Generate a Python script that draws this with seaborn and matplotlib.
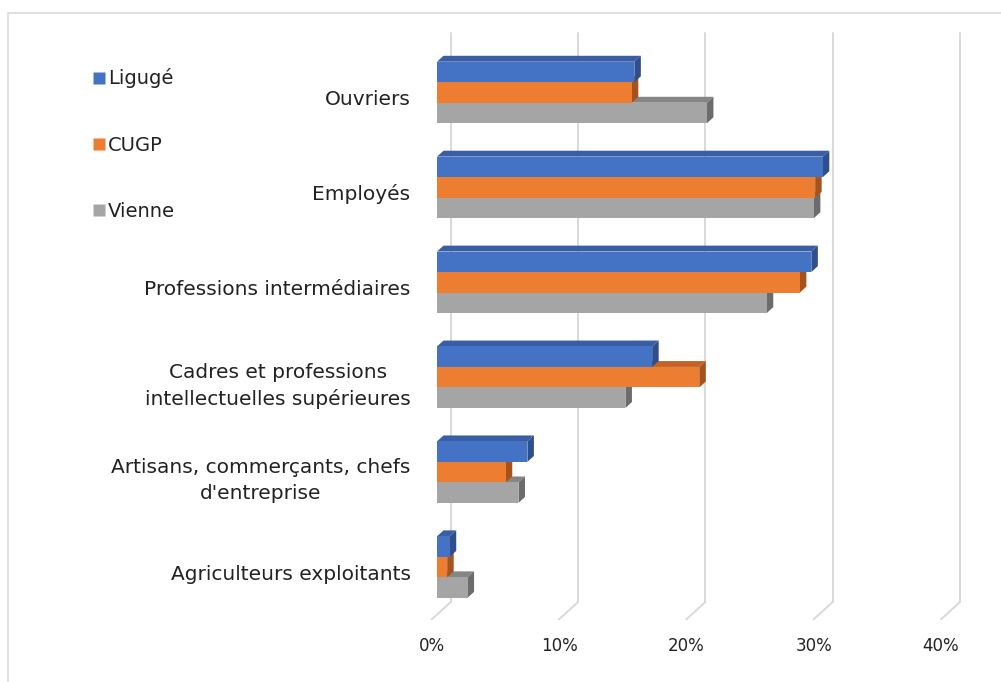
import numpy as np
import pandas as pd
import matplotlib
matplotlib.use("Agg")
import matplotlib.pyplot as plt
import matplotlib.transforms as mtransforms
from matplotlib.patches import Polygon, Rectangle
from matplotlib.lines import Line2D
import seaborn as sns

# ---- data -------------------------------------------------------------
categories = [
    "Ouvriers",
    "Employés",
    "Professions intermédiaires",
    "Cadres et professions\nintellectuelles supérieures",
    "Artisans, commerçants, chefs\nd'entreprise",
    "Agriculteurs exploitants",
]
zones = ["Ligugé", "CUGP", "Vienne"]
ligue = [15.5, 30.3, 29.4, 16.9, 7.1, 1.0]
cugp = [15.3, 29.7, 28.5, 20.6, 5.4, 0.8]
vienne = [21.2, 29.6, 25.9, 14.8, 6.4, 2.4]
x_ticks = [0, 10, 20, 30, 40]
x_tick_labels = ["0%", "10%", "20%", "30%", "40%"]

front_colors = ["#4472C4", "#ED7D31", "#A5A5A5"]
top_colors = ["#3A5EA6", "#C2642A", "#858585"]
side_colors = ["#2F4F8C", "#A5521E", "#6C6C6C"]

df = pd.DataFrame({
    "cat": categories * 3,
    "zone": np.repeat(zones, len(categories)),
    "val": ligue + cugp + vienne,
})

# ---- figure -----------------------------------------------------------
W, H, DPI = 1001, 682, 100
sns.set_style("white")
plt.rcParams["font.family"] = ["DejaVu Sans"]
fig = plt.figure(figsize=(W / DPI, H / DPI), dpi=DPI)
fig.patch.set_facecolor("white")

ax = fig.add_axes([437 / W, 67.5 / H, 509.3 / W, 569.5 / H])
sns.barplot(data=df, y="cat", x="val", hue="zone", hue_order=zones,
            order=categories, orient="h", width=0.648, palette=front_colors,
            saturation=1, legend=False, ax=ax, errorbar=None)
ax.set_xlim(0, 40)
ax.set_ylim(5.5, -0.5)
for s in ax.spines.values():
    s.set_visible(False)
ax.set_xlabel("")
ax.set_ylabel("")
ax.set_facecolor("none")

# pixel size of one data unit on each axis
bbox = ax.get_window_extent()
sx = bbox.width / 40.0
sy = bbox.height / 6.0


def depth_shift(d):
    """Data-space offset of an oblique depth of d pixels (to the right and up)."""
    return d / sx, -0.91 * d / sy


# ---- back wall gridlines and floor edges ------------------------------
bx, by = depth_shift(13.7)
fx, fy = depth_shift(-5.3)
grid_c = "#D9D9D9"
for v in x_ticks:
    ax.add_line(Line2D([v + bx, v + bx], [-0.5 + by, 5.5 + by], color=grid_c,
                       lw=1.4, zorder=0, clip_on=False))
    ax.add_line(Line2D([v + bx, v + fx], [5.5 + by, 5.5 + fy], color=grid_c,
                       lw=1.4, zorder=0, clip_on=False))

# ---- 3D faces of bars -------------------------------------------------
dx, dy = depth_shift(6.5)
for h, cont in enumerate(ax.containers):
    base_z = 3 + (2 - h) * 2
    for bar in cont:
        x0 = bar.get_x()
        x1 = x0 + bar.get_width()
        ytop = bar.get_y()
        ybot = ytop + bar.get_height()
        top = Polygon([(x0, ytop), (x1, ytop), (x1 + dx, ytop + dy), (x0 + dx, ytop + dy)],
                      closed=True, facecolor=top_colors[h], edgecolor="none",
                      zorder=base_z, clip_on=False)
        side = Polygon([(x1, ytop), (x1, ybot), (x1 + dx, ybot + dy), (x1 + dx, ytop + dy)],
                       closed=True, facecolor=side_colors[h], edgecolor="none",
                       zorder=base_z, clip_on=False)
        ax.add_patch(top)
        ax.add_patch(side)
        bar.set_zorder(base_z + 1)
        bar.set_edgecolor("none")

# ---- tick labels ------------------------------------------------------
ax.set_xticks(x_ticks)
ax.set_xticklabels(x_tick_labels, fontsize=12, color="#222222")
ax.tick_params(axis="x", length=0, pad=16)
for lab in ax.get_xticklabels():
    lab.set_transform(lab.get_transform() +
                      mtransforms.ScaledTranslation(-5.3 / DPI, 0, fig.dpi_scale_trans))

ax.tick_params(axis="y", length=0, pad=19)
for lab in ax.get_yticklabels():
    lab.set_fontsize(14.5)
    lab.set_color("#222222")
    lab.set_multialignment("center")
    lab.set_linespacing(1.45)
    shift = -3 if "\n" in lab.get_text() else -5
    lab.set_transform(lab.get_transform() +
                      mtransforms.ScaledTranslation(0, shift / DPI, fig.dpi_scale_trans))

# ---- legend -----------------------------------------------------------
handles = [Line2D([], [], marker="s", linestyle="none", markersize=8,
                  markerfacecolor=c, markeredgecolor="none") for c in front_colors]
fig.legend(handles, zones, loc="upper left", bbox_to_anchor=(76 / W, 1 - 51 / H),
           frameon=False, fontsize=14, handlelength=0.6, handletextpad=0.15,
           labelspacing=2.42, labelcolor="#222222")

# ---- chart area border ------------------------------------------------
fig.patches.append(Rectangle((8 / W, -0.05), 1.2, 1.05 - 13 / H,
                             transform=fig.transFigure, fill=False,
                             edgecolor="#D9D9D9", lw=1.2, zorder=0))

fig.savefig("out.png", dpi=DPI)
